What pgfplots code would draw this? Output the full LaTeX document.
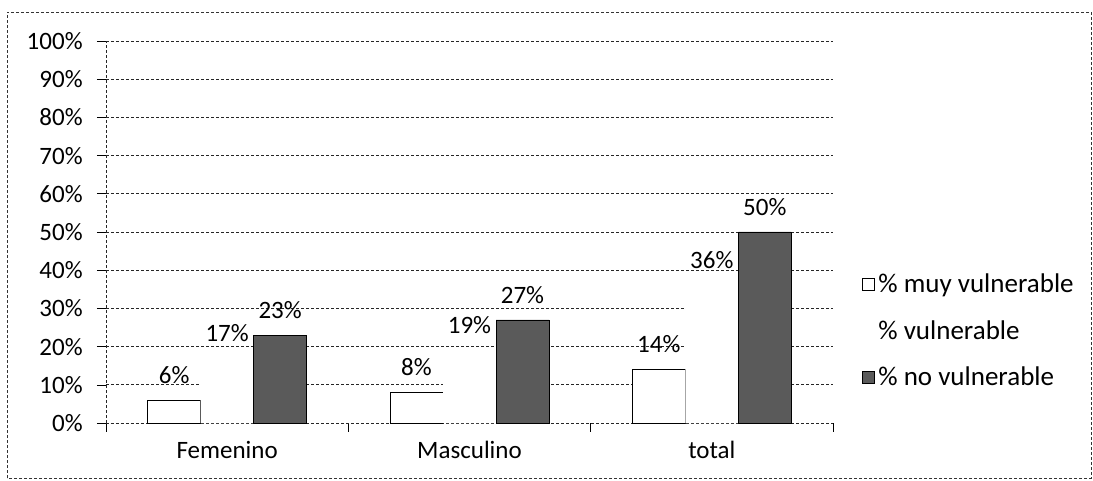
\documentclass[border=0pt]{standalone}
\usepackage{fontspec}
\setmainfont{Carlito}
\usepackage{pgfplots}
\pgfplotsset{compat=1.18}
\definecolor{darkbar}{HTML}{5A5A5A}
\begin{document}
\fontsize{24.5}{28}\selectfont
\begin{tikzpicture}[x=1pt,y=1pt]
\useasboundingbox (0,0) rectangle (1093,480);
\draw[densely dashed, black!80, line width=0.8pt] (7,2) rectangle (1091,468);
\begin{axis}[
  at={(106pt,57pt)}, anchor=south west,
  scale only axis, width=727pt, height=382pt,
  xmin=-0.5, xmax=2.5, ymin=0, ymax=100,
  ybar=0pt, bar width=53pt,
  ytick={0,10,...,100},
  yticklabel={\pgfmathprintnumber{\tick}\%},
  /pgf/number format/assume math mode=true,
  xtick={-0.5,0.5,1.5,2.5}, xticklabels={},
  extra x ticks={0,1,2},
  extra x tick labels={Femenino,Masculino,total},
  extra x tick style={major tick length=0pt, grid=none, xticklabel style={yshift=-10pt}},
  tick align=outside, major tick length=9pt,
  tick style={black, line width=0.6pt},
  ymajorgrids, grid style={densely dashed, black!85, line width=0.7pt},
  axis x line*=bottom, axis y line*=left,
  axis line style={densely dashed, black!85, line width=0.7pt, -},
  yticklabel style={xshift=-6pt},
  tick label style={font=\fontsize{25}{28}\selectfont},
  nodes near coords={\pgfmathprintnumber{\pgfplotspointmeta}\%},
  every node near coord/.append style={font=\fontsize{25}{28}\selectfont, anchor=south, yshift=8pt},
  legend style={at={(1.040,0.39)}, anchor=north west, draw=none, fill=none,
    font=\fontsize{27}{30}\selectfont, row sep=24pt, inner sep=0pt,
    nodes={inner xsep=3.5pt, inner ysep=0pt},
    legend cell align=left},
  legend image code/.code={\path[#1] (0pt,-5pt) rectangle (12pt,7pt);},
]
\addplot[draw=black, fill=white, line width=0.6pt] coordinates {(0,6) (1,8) (2,14)};
\addplot[draw=none, fill=white] coordinates {(0,17) (1,19) (2,36)};
\addplot[draw=black, fill=darkbar, line width=0.6pt] coordinates {(0,23) (1,27) (2,50)};
\legend{\% muy vulnerable, \% vulnerable, \% no vulnerable}
\end{axis}
\end{tikzpicture}
\end{document}
